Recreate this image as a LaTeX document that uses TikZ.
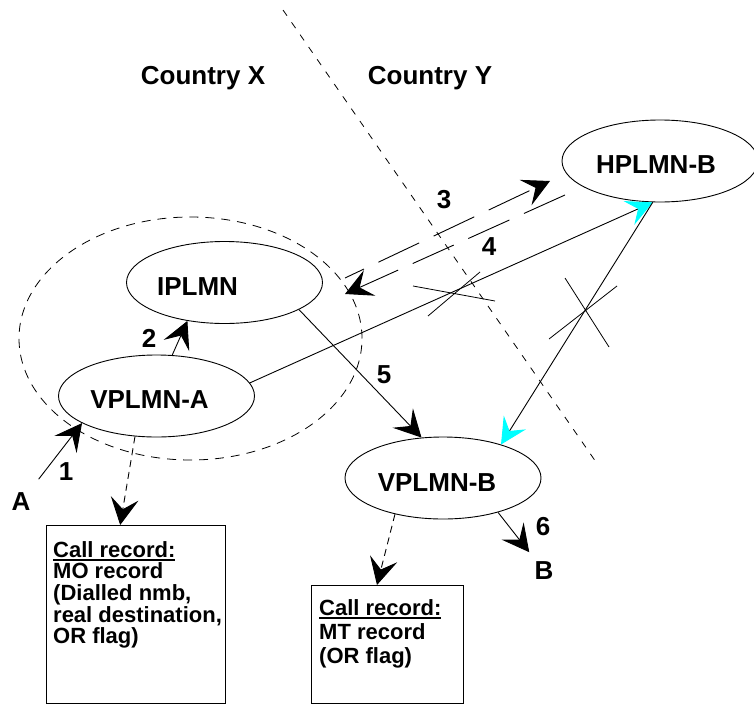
\documentclass[tikz,border=0pt]{standalone}
\usepackage{fontspec}
\setmainfont{Liberation Sans}
\usetikzlibrary{shapes.geometric,arrows.meta}

\definecolor{aqua}{RGB}{0,255,255}
\newcommand{\recul}[1]{\vtop{\hbox{#1}\kern1.5pt\hrule height 2pt}}

\tikzset{
  net/.style={ellipse, draw, line width=0.9pt, minimum width=196pt, minimum height=82pt, inner sep=0pt},
  txt/.style={font=\fontsize{26}{26}\selectfont\bfseries, inner sep=1pt},
  rec/.style={font=\fontsize{22}{21.7}\selectfont\bfseries, inner sep=0pt, align=left, anchor=north west},
  recbox/.style={draw, line width=0.9pt, anchor=north west, inner sep=0pt},
  flow/.style={line width=0.9pt, -{Stealth[length=27pt,width=28pt,inset=11pt]}},
  cyanflow/.style={line width=0.9pt, -{Stealth[length=26pt,width=26pt,inset=10pt,color=aqua]}},
}

\begin{document}
\begin{tikzpicture}[x=1pt,y=-1pt]
  \useasboundingbox (0,0) rectangle (754,706);
  % border between the two countries
  \draw [line width=0.8pt, dash pattern=on 7pt off 8pt] (283,10) -- (596,462);
  \node [txt] (cx) at (203,78) {Country X};
  \node [txt] (cy) at (430,78) {Country Y};
  \draw [line width=0.8pt, dash pattern=on 9pt off 7pt] (190.5,338.5) ellipse [x radius=171.5pt, y radius=121.5pt];
  % networks
  \node [net, label={[txt, xshift=-27pt, yshift=-4.5pt]center:IPLMN}] (ipl) at (224.5,282.5) {};
  \node [net, label={[txt, xshift=-7pt, yshift=-4pt]center:VPLMN-A}] (vpa) at (156.5,396) {};
  \node [net, label={[txt, xshift=-4pt, yshift=-4pt]center:HPLMN-B}] (hpb) at (660,161) {};
  \node [net, label={[txt, xshift=-6pt, yshift=-5pt]center:VPLMN-B}] (vpb) at (443,478) {};
  \node [txt] (a) at (21,502) {A};
  \node [txt] (b) at (544,571) {B};
  % call records
  \node [recbox, minimum width=179pt, minimum height=178pt] (mo) at (46,525) {};
  \node [rec] (mo-t) at (53,541) {\recul{Call record:}\\MO record\\(Dialled nmb,\\real destination,\\OR flag)};
  \node [recbox, minimum width=152pt, minimum height=118pt] (mt) at (311,585) {};
  \node [rec, font=\fontsize{22}{24}\selectfont\bfseries] (mt-t) at (319,599) {\recul{Call record:}\\MT record\\(OR flag)};
  % call legs
  \draw [flow, shorten <=16pt] (a) -- (vpa.200);
  \draw [flow] (vpa.69) -- (ipl.226);
  \draw [flow] (ipl.340) -- (vpb.118);
  \draw [flow, shorten >=11pt] (vpb.328) -- (b);
  \draw [flow, dash pattern=on 7pt off 5pt] (vpa.242) -- (mo.100);
  \draw [flow, dash pattern=on 7pt off 5pt] (vpb.217) -- (mt.100);
  \coordinate (m3a) at (345,278);
  \coordinate (m3b) at (550,181);
  \coordinate (m4a) at (565,195);
  \coordinate (m4b) at (345,294);
  \draw [flow, dash pattern=on 45pt off 16pt, dash phase=24pt] (m3a) -- (m3b);
  \draw [flow, dash pattern=on 45pt off 16pt] (m4a) -- (m4b);
  \draw [cyanflow] (vpa.8) -- (hpb.260);
  \draw [cyanflow] (hpb.260) -- (vpb.30);
  % blocked routes
  \draw [line width=0.8pt] (413,286) -- (495,301) (428,316) -- (480,272);
  \draw [line width=0.8pt] (565,278) -- (609,347) (549,339) -- (617,286);
  % numbers
  \node [txt] (n1) at (66,472) {1};
  \node [txt] (n2) at (149,338) {2};
  \node [txt] (n3) at (444,200) {3};
  \node [txt] (n4) at (489,247) {4};
  \node [txt] (n5) at (384,375) {5};
  \node [txt] (n6) at (543,527) {6};
\end{tikzpicture}
\end{document}
